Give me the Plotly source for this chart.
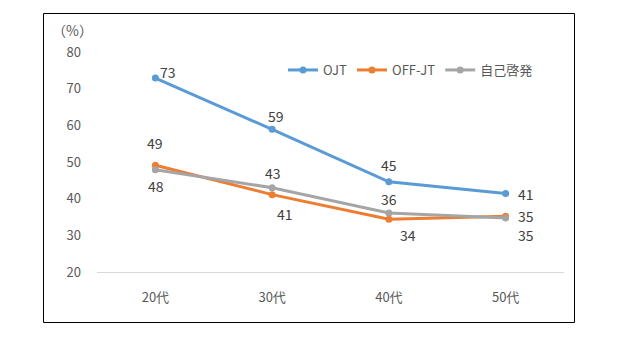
import plotly.graph_objects as go

categories = ["20代", "30代", "40代", "50代"]
ojt = [72.9, 58.9, 44.6, 41.4]
off_jt = [49.1, 41.1, 34.4, 35.2]
jiko = [47.9, 43.0, 36.1, 34.7]
y_ticks = [20, 30, 40, 50, 60, 70, 80]

W, H = 630, 337
L, R, T, B = 97, 66, 52, 65
pw, ph = W - L - R, H - T - B

def px(x):
    return (x - L) / pw

def py(y):
    return (H - B - y) / ph

FONT = "Noto Sans CJK JP, Open Sans, sans-serif"
# label offsets in pixels (dx right, dy up)
series = [
    ("OJT", ojt, "#5b9bd5", [(13, 6), (4, 13), (0, 17), (20, 0)]),
    ("OFF-JT", off_jt, "#ed7d31", [(0, 22), (13, -19), (19, -16), (20, 0)]),
    ("自己啓発", jiko, "#a5a5a5", [(1, -16), (1, 15), (0, 14), (20, -17)]),
]

fig = go.Figure()
annotations = []
for name, vals, col, offs in series:
    fig.add_trace(go.Scatter(
        x=categories, y=vals, name=name, mode="lines+markers",
        line=dict(color=col, width=3), marker=dict(color=col, size=7),
        cliponaxis=False,
    ))
    for c, v, (dx, dy) in zip(categories, vals, offs):
        annotations.append(dict(x=c, y=v, text=f"{round(v)}", showarrow=False,
                                xanchor="center", yanchor="middle", xshift=dx, yshift=dy,
                                font=dict(family=FONT, size=14, color="#404040")))

annotations.append(dict(text="（%）", xref="paper", yref="paper", x=px(72), y=py(30),
                        xanchor="center", yanchor="middle", showarrow=False,
                        font=dict(family=FONT, size=14, color="#595959")))

fig.update_layout(
    width=W, height=H, margin=dict(l=L, r=R, t=T, b=B),
    paper_bgcolor="white", plot_bgcolor="white",
    font=dict(family=FONT, color="#595959", size=13),
    showlegend=True,
    legend=dict(orientation="h", x=px(283), y=py(70), xanchor="left", yanchor="middle",
                font=dict(family=FONT, size=13, color="#595959"), bgcolor="rgba(0,0,0,0)",
                itemwidth=30, tracegroupgap=0),
    xaxis=dict(range=[-0.5, 3.5], showgrid=False, showline=True, linecolor="#d9d9d9", linewidth=1,
               ticks="outside", ticklen=13, tickcolor="rgba(0,0,0,0)",
               tickfont=dict(size=13, color="#595959"), zeroline=False),
    yaxis=dict(range=[20, 80], tickvals=y_ticks, showgrid=False, zeroline=False,
               showline=False, ticks="", ticklabelstandoff=15,
               tickfont=dict(size=13, color="#595959")),
    shapes=[dict(type="rect", xref="paper", yref="paper",
                 x0=px(43.5), x1=px(574.5), y0=py(13.5), y1=py(322.5),
                 line=dict(color="black", width=1), fillcolor="rgba(0,0,0,0)", layer="below")],
    annotations=annotations,
)

fig.write_html("out.html")
